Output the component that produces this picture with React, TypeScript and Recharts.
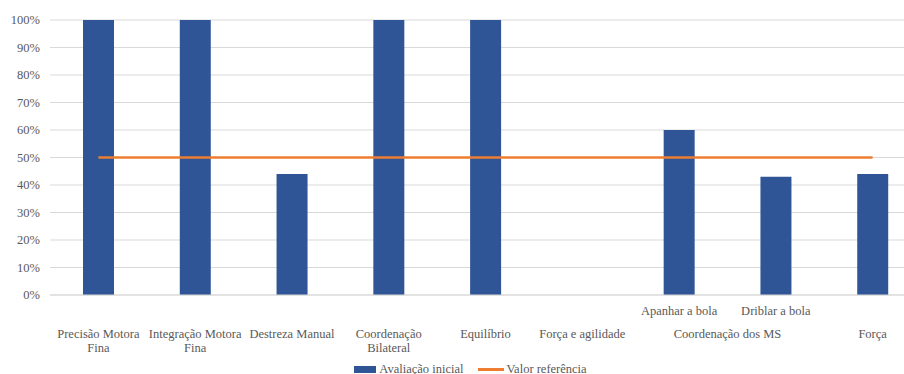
import React from 'react';
import { ComposedChart, Bar, Line, XAxis, YAxis, CartesianGrid, Legend } from 'recharts';

// categorias em dois níveis (sub-rótulo em cima, grupo em baixo)
const subLabels = ['', '', '', '', '', '', 'Apanhar a bola', 'Driblar a bola', ''];
const groupLabels = [
  'Precisão Motora\nFina',
  'Integração Motora\nFina',
  'Destreza Manual',
  'Coordenação\nBilateral',
  'Equilíbrio',
  'Força e agilidade',
  'Coordenação dos MS',
  'Coordenação dos MS',
  'Força',
];
const avaliacaoInicial = [100, 100, 44, 100, 100, 0, 60, 43, 44];
const valorReferencia = [50, 50, 50, 50, 50, 50, 50, 50, 50];
const yTicks = [0, 10, 20, 30, 40, 50, 60, 70, 80, 90, 100];

const data = groupLabels.map((g, i) => ({
  key: String(i),
  avaliacao: avaliacaoInicial[i],
  referencia: valorReferencia[i],
}));

const CHART_W = 922;
const CHART_H = 374;
const MARGIN = { top: 20, right: 1, bottom: 0, left: 0 };
const Y_W = 50;
const BAND = (CHART_W - MARGIN.left - MARGIN.right - Y_W) / groupLabels.length;

const FONT = 'Liberation Serif, DejaVu Serif, serif';
const FONT_SIZE = 12.5;
const TEXT_COLOR = '#595959';
const BLUE = '#2F5597';
const ORANGE = '#ED7D31';

function CategoryTick(props: any) {
  const { x, y, index } = props;
  const sub = subLabels[index];
  const group = groupLabels[index];
  const first = groupLabels.indexOf(group);
  let span = 0;
  while (groupLabels[first + span] === group) span++;
  const cx = x + ((span - 1) * BAND) / 2;
  const lines = group.split('\n');
  return (
    <g fontFamily={FONT} fontSize={FONT_SIZE} fill={TEXT_COLOR}>
      {sub && (
        <text x={x} y={y + 20} textAnchor="middle">
          {sub}
        </text>
      )}
      {index === first && (
        <text x={cx} y={y + 43} textAnchor="middle">
          {lines.map((l, i) => (
            <tspan key={i} x={cx} dy={i === 0 ? 0 : 14}>
              {l}
            </tspan>
          ))}
        </text>
      )}
    </g>
  );
}

function LegendContent() {
  return (
    <div style={{ display: 'flex', justifyContent: 'center', alignItems: 'center', paddingLeft: 20,
      fontFamily: FONT, fontSize: FONT_SIZE, color: TEXT_COLOR, lineHeight: '14px' }}>
      <span style={{ display: 'inline-block', width: 22, height: 7, background: BLUE, marginRight: 3 }} />
      <span>Avaliação inicial</span>
      <span style={{ display: 'inline-block', width: 26, height: 3, background: ORANGE, marginLeft: 15, marginRight: 2 }} />
      <span>Valor referência</span>
    </div>
  );
}

export default function App() {
  return (
    <div style={{ position: 'absolute', left: 0, top: 0, width: 904, height: 374, overflow: 'hidden', background: '#fff' }}>
      <ComposedChart width={CHART_W} height={CHART_H} data={data} margin={MARGIN}>
        <CartesianGrid vertical={false} stroke="#D9D9D9" />
        <XAxis dataKey="key" axisLine={{ stroke: '#D9D9D9' }} tickLine={false} tickSize={0} tickMargin={0}
          height={67} interval={0} tick={<CategoryTick />} />
        <YAxis width={Y_W} domain={[0, 100]} ticks={yTicks} axisLine={false} tickLine={false}
          tickFormatter={(v: number) => `${v}%`} tickMargin={4}
          tick={{ fontFamily: FONT, fontSize: FONT_SIZE, fill: TEXT_COLOR }} />
        <Legend verticalAlign="bottom" height={12} content={<LegendContent />}
          wrapperStyle={{ top: 362 }} />
        <Bar dataKey="avaliacao" name="Avaliação inicial" fill={BLUE} barSize={31} isAnimationActive={false} />
        <Line dataKey="referencia" name="Valor referência" type="linear" stroke={ORANGE} strokeWidth={2.5}
          dot={false} activeDot={false} isAnimationActive={false} />
      </ComposedChart>
    </div>
  );
}
